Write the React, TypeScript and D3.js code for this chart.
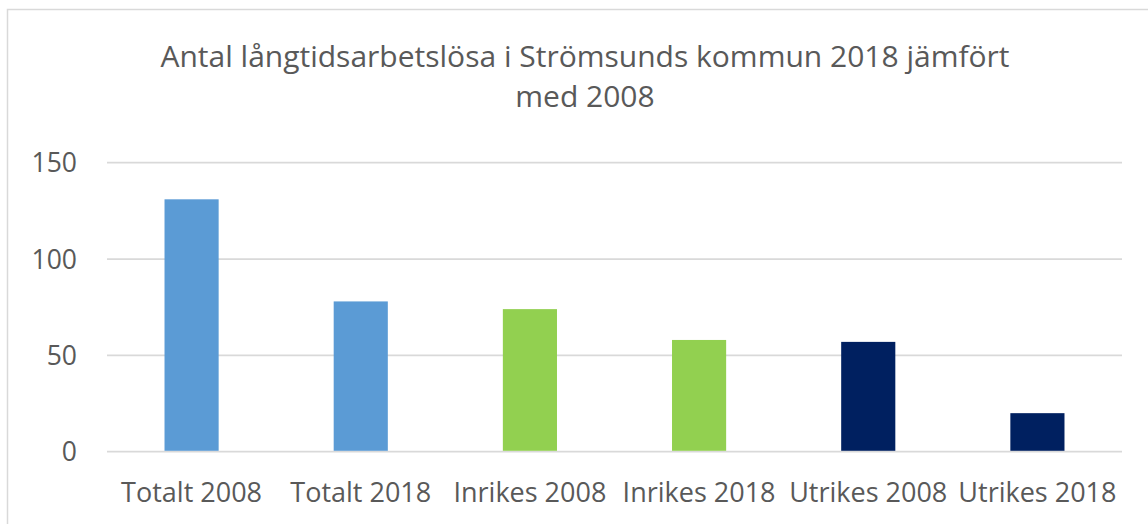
import React from "react";
import * as d3 from "d3";

const categories = ["Totalt 2008", "Totalt 2018", "Inrikes 2008", "Inrikes 2018", "Utrikes 2008", "Utrikes 2018"];
const values = [131, 78, 74, 58, 57, 20];
const barColors = ["#5B9BD5", "#5B9BD5", "#92D050", "#92D050", "#002060", "#002060"];
const yTicks = [0, 50, 100, 150];
const titleLines = ["Antal långtidsarbetslösa i Strömsunds kommun 2018 jämfört", "med 2008"];

const W = 1148;
const H = 524;
const FONT = "'Open Sans', sans-serif";
const TEXT = "#595959";

export default function App() {
  const x = d3.scaleBand<string>().domain(categories).range([107, 1122]).padding(0);
  const y = d3.scaleLinear().domain([0, 150]).range([451.7, 162.7]);
  const bw = x.bandwidth() * 0.32;

  return (
    <svg width={W} height={H} style={{ position: "absolute", left: 0, top: 0, background: "#fff" }} fontFamily={FONT}>
      <rect x={7.5} y={9.5} width={1300} height={700} fill="#fff" stroke="#D9D9D9" strokeWidth={1.5} />
      {titleLines.map((t, i) => (
        <text key={i} x={585} y={67 + i * 40} textAnchor="middle" fontSize={30} fill={TEXT}>
          {t}
        </text>
      ))}
      {yTicks.map((t) => (
        <g key={t}>
          <line x1={107} x2={1122} y1={y(t)} y2={y(t)} stroke="#D9D9D9" strokeWidth={1.8} />
          <text x={77} y={y(t) + 9.5} textAnchor="end" fontSize={26.5} fill={TEXT}>
            {t}
          </text>
        </g>
      ))}
      {categories.map((c, i) => (
        <rect
          key={c}
          x={(x(c) as number) + x.bandwidth() / 2 - bw / 2}
          y={y(values[i])}
          width={bw}
          height={y(0) - y(values[i]) - 0.9}
          fill={barColors[i]}
        />
      ))}
      {categories.map((c) => (
        <text key={c} x={(x(c) as number) + x.bandwidth() / 2} y={502} textAnchor="middle" fontSize={27} fill={TEXT}>
          {c}
        </text>
      ))}
    </svg>
  );
}
